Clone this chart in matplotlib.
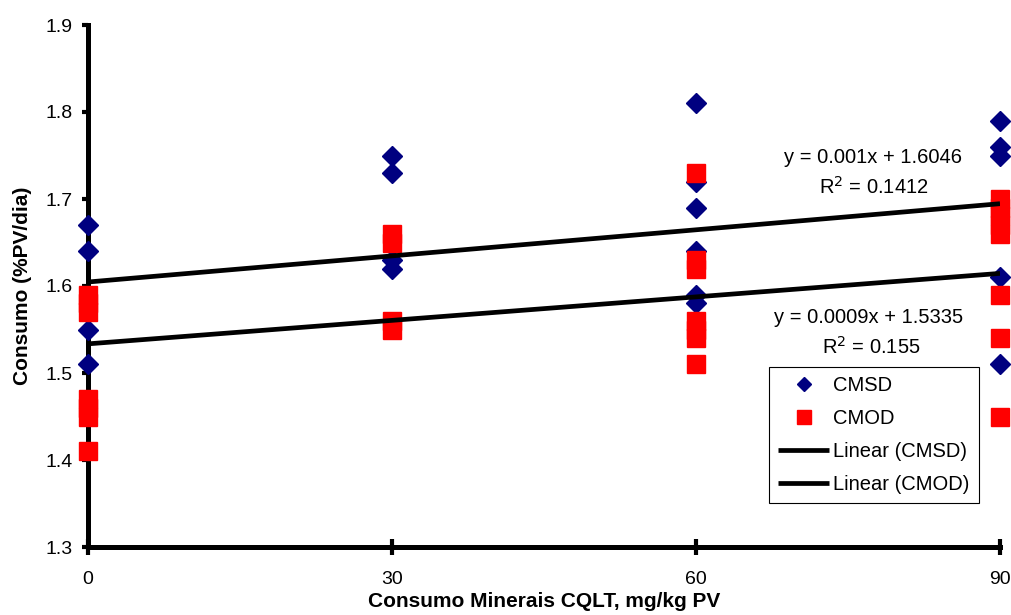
import numpy as np
import matplotlib
matplotlib.use('Agg')
import matplotlib.pyplot as plt

plt.rcParams['font.family'] = ['Liberation Sans', 'DejaVu Sans']

# dados
x_cmsd = [0, 0, 0, 0,
          30, 30, 30, 30,
          60, 60, 60, 60, 60, 60,
          90, 90, 90, 90, 90]
y_cmsd = [1.67, 1.64, 1.55, 1.51,
          1.75, 1.73, 1.63, 1.62,
          1.81, 1.72, 1.69, 1.64, 1.59, 1.58,
          1.79, 1.76, 1.75, 1.61, 1.51]

x_cmod = [0, 0, 0, 0, 0, 0, 0,
          30, 30, 30, 30,
          60, 60, 60, 60, 60, 60, 60,
          90, 90, 90, 90, 90, 90, 90, 90]
y_cmod = [1.59, 1.58, 1.57, 1.47, 1.46, 1.45, 1.41,
          1.66, 1.65, 1.56, 1.55,
          1.73, 1.63, 1.62, 1.56, 1.55, 1.54, 1.51,
          1.70, 1.69, 1.68, 1.67, 1.66, 1.59, 1.54, 1.45]

# linhas de tendencia (coeficientes do grafico)
slope_cmsd, icpt_cmsd, r2_cmsd = 0.001, 1.6046, '0.1412'
slope_cmod, icpt_cmod, r2_cmod = 0.0009, 1.5335, '0.155'

x_ticks = [0, 30, 60, 90]
y_ticks = [1.3, 1.4, 1.5, 1.6, 1.7, 1.8, 1.9]

W, H = 1011, 615
fig = plt.figure(figsize=(W / 100, H / 100), dpi=100)
ax = fig.add_axes([88 / W, 68 / H, 912 / W, 522 / H])

ax.plot(x_cmsd, y_cmsd, 'D', color='#000080', ms=9.7, mec='#000080',
        clip_on=False, zorder=3, label='CMSD')
ax.plot(x_cmod, y_cmod, 's', color='#ff0000', ms=13.5, mec='#ff0000',
        clip_on=False, zorder=3.1, label='CMOD')

xl = np.array([0, 90])
ax.plot(xl, slope_cmsd * xl + icpt_cmsd, color='black', lw=3.4,
        solid_capstyle='butt', zorder=4, label='Linear (CMSD)')
ax.plot(xl, slope_cmod * xl + icpt_cmod, color='black', lw=3.4,
        solid_capstyle='butt', zorder=4, label='Linear (CMOD)')


def fig_text(px, py, s):
    fig.text(px / W, 1 - py / H, s, ha='center', va='center', fontsize=14.5)


fig_text(873, 157, f'y = {slope_cmsd}x + {icpt_cmsd}')
fig_text(874, 187, f'R$^2$ = {r2_cmsd}')
fig_text(869, 317, f'y = {slope_cmod}x + {icpt_cmod}')
fig_text(871, 347, f'R$^2$ = {r2_cmod}')

ax.set_xlim(0, 90)
ax.set_ylim(1.3, 1.9)
ax.set_xticks(x_ticks)
ax.set_xticklabels([str(v) for v in x_ticks])
ax.set_yticks(y_ticks)
ax.set_yticklabels([f'{v:.1f}' for v in y_ticks])
ax.tick_params(axis='x', direction='inout', length=12, width=3, pad=11,
               labelsize=14)
ax.tick_params(axis='y', direction='out', length=4, width=3, pad=7,
               labelsize=14)
for s in ['top', 'right']:
    ax.spines[s].set_visible(False)
for s in ['left', 'bottom']:
    ax.spines[s].set_linewidth(3.6)

ax.set_xlabel('Consumo Minerais CQLT, mg/kg PV', fontsize=15,
              fontweight='bold', labelpad=3)
ax.set_ylabel('Consumo (%PV/dia)', fontsize=15, fontweight='bold',
              labelpad=10)

leg = ax.legend(loc='upper left', bbox_to_anchor=(769 / W, 1 - 367 / H),
                bbox_transform=fig.transFigure, fontsize=14.5, frameon=True,
                fancybox=False, edgecolor='black', framealpha=1,
                borderaxespad=0, handlelength=2.55, handletextpad=0.2,
                markerscale=0.7, labelspacing=0.7, borderpad=0.45)
leg.get_frame().set_linewidth(0.8)

fig.savefig('out.png', dpi=100)
